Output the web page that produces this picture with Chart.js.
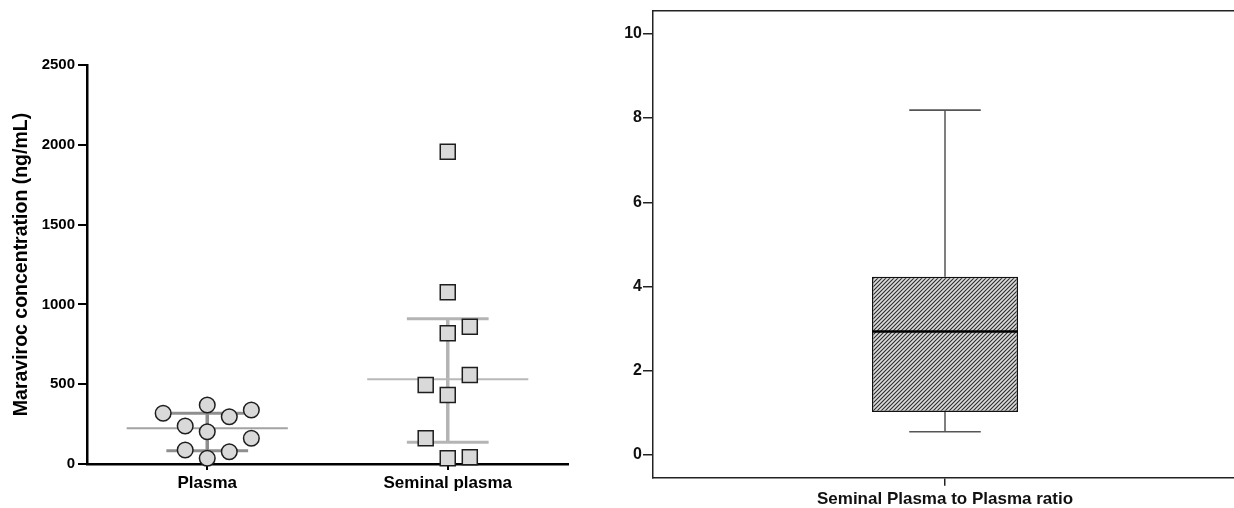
<!DOCTYPE html>
<html><head><meta charset="utf-8">
<script src="https://cdn.jsdelivr.net/npm/chart.js@4.4.0/dist/chart.umd.min.js"></script>
<style>
html,body{margin:0;padding:0;background:#fff;overflow:hidden;width:1234px;height:508px;}
canvas{position:absolute;top:0;}
#left{left:0;}
#right{left:600px;}
</style></head><body>
<canvas id="left" width="600" height="508"></canvas>
<canvas id="right" width="640" height="508"></canvas>
<script>
// ---------- Left panel data ----------
const groupLabels = ['Plasma', 'Seminal plasma'];
const plasmaValues = [318, 370, 296, 338, 238, 202, 161, 88, 77, 36];
const plasmaJitter = [-2, 0, 1, 2, -1, 0, 2, -1, 1, 0];
const seminalValues = [1957, 1076, 860, 819, 495, 558, 432, 161, 36, 42];
const seminalJitter = [0, 0, 1, 0, -1, 1, 0, -1, 0, 1];
const groupMedian = [224, 531];
const groupQ1 = [83, 136];
const groupQ3 = [318, 910];
const leftYTicks = [0, 500, 1000, 1500, 2000, 2500];
const leftYTitle = 'Maraviroc concentration (ng/mL)';

// ---------- Right panel data ----------
const ratioLabels = ['Seminal Plasma to Plasma ratio'];
const ratioMin = [0.55];
const ratioQ1 = [1.02];
const ratioMedian = [2.93];
const ratioQ3 = [4.23];
const ratioMax = [8.19];
const rightYTicks = [0, 2, 4, 6, 8, 10];

const FONT = '"Liberation Sans", Arial, Helvetica, sans-serif';
const JIT_STEP = 22 / 240;
const MED_HALF = 0.335;
const IQR_HALF = 0.17;

function jittered(vals, jit, cat) {
  return vals.map((v, i) => ({ x: cat + jit[i] * JIT_STEP, y: v }));
}
function hseg(cat, y, half) { return [{ x: cat - half, y }, { x: cat + half, y }]; }
function vseg(cat, y0, y1) { return [{ x: cat, y: y0 }, { x: cat, y: y1 }]; }

const lineStyles = [
  { med: '#a3a3a3', iqr: '#8f8f8f' },
  { med: '#b9b9b9', iqr: '#b4b4b4' }
];
const lineSets = [];
groupLabels.forEach((g, i) => {
  const c = i + 1;
  const st = lineStyles[i];
  lineSets.push({ data: hseg(c, groupMedian[i], MED_HALF), borderColor: st.med, borderWidth: 2.2 });
  lineSets.push({ data: vseg(c, groupQ1[i], groupQ3[i]), borderColor: st.iqr, borderWidth: 3.5 });
  lineSets.push({ data: hseg(c, groupQ1[i], IQR_HALF), borderColor: st.iqr, borderWidth: 3 });
  lineSets.push({ data: hseg(c, groupQ3[i], IQR_HALF), borderColor: st.iqr, borderWidth: 3 });
});
lineSets.forEach(d => { d.showLine = true; d.pointRadius = 0; d.order = 2; d.clip = false; d.borderCapStyle = 'butt'; });

new Chart(document.getElementById('left'), {
  type: 'scatter',
  data: {
    datasets: [
      { data: jittered(plasmaValues, plasmaJitter, 1), pointStyle: 'circle', pointRadius: 7.8,
        backgroundColor: '#d9d9d9', borderColor: '#1e1e1e', borderWidth: 1.5, order: 0, clip: false },
      { data: jittered(seminalValues, seminalJitter, 2), pointStyle: 'rect', pointRadius: 10.6,
        backgroundColor: '#d9d9d9', borderColor: '#1e1e1e', borderWidth: 1.5, order: 0, clip: false },
      ...lineSets
    ]
  },
  options: {
    responsive: false, animation: false,
    layout: { padding: { top: 65, right: 32, left: 0, bottom: 0 } },
    plugins: { legend: { display: false }, tooltip: { enabled: false } },
    scales: {
      x: {
        type: 'linear', min: 0.5, max: 2.5,
        afterBuildTicks: s => { s.ticks = groupLabels.map((l, i) => ({ value: i + 1 })); },
        afterFit: s => { s.height = 44; },
        ticks: { callback: (v, i) => groupLabels[i], color: '#000', padding: 3, maxRotation: 0, autoSkip: false,
                 font: { family: FONT, size: 17, weight: 'bold' } },
        grid: { drawOnChartArea: false, drawTicks: true, tickLength: 6, color: '#000', lineWidth: 2 },
        border: { color: '#000', width: 2.5 }
      },
      y: {
        min: 0, max: 2500,
        afterBuildTicks: s => { s.ticks = leftYTicks.map(v => ({ value: v })); },
        afterFit: s => { s.width = 87; },
        ticks: { callback: v => String(v), color: '#000', padding: 3, font: { family: FONT, size: 15, weight: 'bold' } },
        grid: { drawOnChartArea: false, drawTicks: true, tickLength: 9, color: '#000', lineWidth: 2 },
        border: { color: '#000', width: 2.5 },
        title: { display: true, text: leftYTitle, color: '#000', padding: { top: 10, bottom: 0 },
                 font: { family: FONT, size: 19.5, weight: 'bold' } }
      }
    }
  }
});

// ---------- Right panel ----------
function hatchPattern() {
  const c = document.createElement('canvas');
  c.width = 4; c.height = 4;
  const g = c.getContext('2d');
  g.fillStyle = '#dcdcdc';
  g.fillRect(0, 0, 4, 4);
  g.strokeStyle = '#2a2a2a';
  g.lineWidth = 1.1;
  g.beginPath();
  g.moveTo(-1, 5); g.lineTo(5, -1);
  g.moveTo(-1, 1); g.lineTo(1, -1);
  g.moveTo(3, 5); g.lineTo(5, 3);
  g.stroke();
  return g.createPattern(c, 'repeat');
}

const boxPlugin = {
  id: 'boxWhisker',
  beforeDatasetsDraw(chart) {
    const ctx = chart.ctx, ys = chart.scales.y;
    const meta = chart.getDatasetMeta(0);
    ctx.save();
    meta.data.forEach((bar, i) => {
      const x = bar.x, w = bar.width;
      ctx.strokeStyle = '#2b2b2b'; ctx.lineWidth = 1.2;
      ctx.beginPath();
      ctx.moveTo(x, ys.getPixelForValue(ratioQ3[i])); ctx.lineTo(x, ys.getPixelForValue(ratioMax[i]));
      ctx.moveTo(x, ys.getPixelForValue(ratioQ1[i])); ctx.lineTo(x, ys.getPixelForValue(ratioMin[i]));
      ctx.stroke();
      ctx.strokeStyle = '#555'; ctx.lineWidth = 1.6;
      ctx.beginPath();
      [ratioMax[i], ratioMin[i]].forEach(v => {
        const y = ys.getPixelForValue(v);
        ctx.moveTo(x - w * 0.245, y); ctx.lineTo(x + w * 0.245, y);
      });
      ctx.stroke();
    });
    ctx.restore();
  },
  afterDatasetsDraw(chart) {
    const ctx = chart.ctx, ys = chart.scales.y;
    const meta = chart.getDatasetMeta(0);
    ctx.save();
    meta.data.forEach((bar, i) => {
      const y = ys.getPixelForValue(ratioMedian[i]);
      ctx.strokeStyle = '#000'; ctx.lineWidth = 2.5;
      ctx.beginPath(); ctx.moveTo(bar.x - bar.width / 2, y); ctx.lineTo(bar.x + bar.width / 2, y); ctx.stroke();
    });
    const a = chart.chartArea;
    ctx.strokeStyle = '#222'; ctx.lineWidth = 1.5;
    ctx.beginPath(); ctx.moveTo(a.left, a.top); ctx.lineTo(a.right + 5, a.top); ctx.stroke();
    ctx.restore();
  }
};

const rctx = document.getElementById('right').getContext('2d');
new Chart(rctx, {
  type: 'bar',
  data: {
    labels: ratioLabels,
    datasets: [{
      data: ratioLabels.map((l, i) => [ratioQ1[i], ratioQ3[i]]),
      backgroundColor: hatchPattern(),
      borderColor: '#111', borderWidth: 1.5, borderSkipped: false,
      barPercentage: 1, categoryPercentage: 0.25
    }]
  },
  plugins: [boxPlugin],
  options: {
    responsive: false, animation: false,
    layout: { padding: { top: 10.7, right: 3, left: 0, bottom: 0 } },
    plugins: { legend: { display: false }, tooltip: { enabled: false } },
    scales: {
      x: {
        afterFit: s => { s.height = 30.3; },
        ticks: { color: '#111', padding: 3, font: { family: FONT, size: 17, weight: 'bold' } },
        grid: { drawOnChartArea: false, offset: false, drawTicks: true, tickLength: 8, color: '#222', lineWidth: 1.5 },
        border: { color: '#222', width: 1.5 }
      },
      y: {
        min: -0.54, max: 10.55,
        afterBuildTicks: s => { s.ticks = rightYTicks.map(v => ({ value: v })); },
        afterFit: s => { s.width = 53; },
        ticks: { callback: v => String(v), color: '#111', padding: 1, font: { family: FONT, size: 16, weight: 'bold' } },
        grid: { drawOnChartArea: false, drawTicks: true, tickLength: 10, color: '#222', lineWidth: 1.5 },
        border: { color: '#222', width: 1.5 }
      }
    }
  }
});
</script>
</body></html>
